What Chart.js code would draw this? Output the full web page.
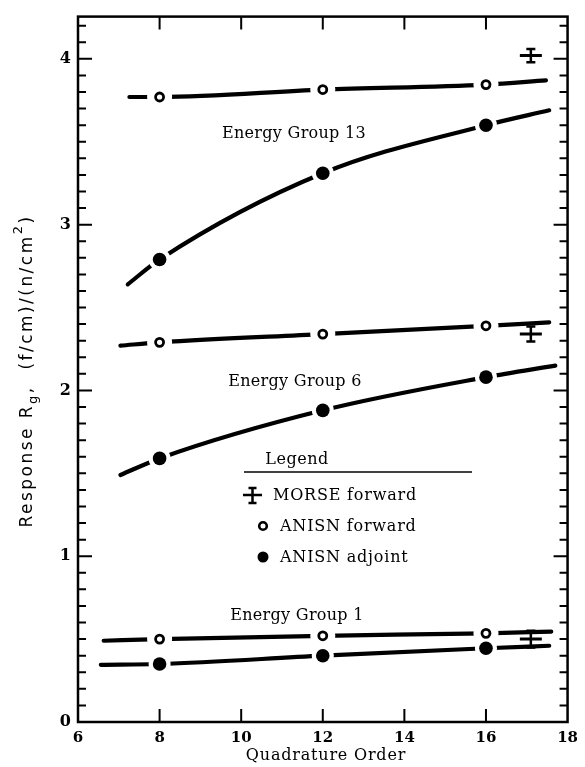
<!DOCTYPE html>
<html><head><meta charset="utf-8">
<script src="https://cdn.jsdelivr.net/npm/chart.js@4/dist/chart.umd.min.js"></script>
<style>html,body{margin:0;padding:0;background:#fff;}#wrap{width:585px;height:767px;}</style>
</head><body><div id="wrap"><canvas id="c" width="585" height="767"></canvas></div>
<script>
// ---- data ----
const quadratureOrders = [8, 12, 16];
const xTickLabels = ['6', '8', '10', '12', '14', '16', '18'];
const yTickLabels = ['0', '1', '2', '3', '4'];
const groupLabels = ['Energy Group 13', 'Energy Group 6', 'Energy Group 1'];

// ANISN forward (open circles)
const fwd13 = [3.77, 3.815, 3.845];
const fwd6 = [2.29, 2.34, 2.39];
const fwd1 = [0.50, 0.52, 0.535];
// ANISN adjoint (filled circles)
const adj13 = [2.79, 3.31, 3.60];
const adj6 = [1.59, 1.88, 2.08];
const adj1 = [0.35, 0.40, 0.445];

// ends of the drawn fit curves [order, response]
const fwd13Start = [7.26, 3.77], fwd13End = [17.47, 3.87];
const adj13Start = [7.22, 2.64], adj13End = [17.55, 3.69];
const fwd6Start = [7.04, 2.27], fwd6End = [17.55, 2.41];
const adj6Start = [7.04, 1.49], adj6End = [17.7, 2.15];
const fwd1Start = [6.63, 0.49], fwd1End = [17.6, 0.545];
const adj1Start = [6.56, 0.345], adj1End = [17.55, 0.46];

// MORSE forward (with error bars)
const morseOrder = [17.1, 17.1, 17.1];
const morseValue = [4.02, 2.34, 0.50];
const morseError = [0.04, 0.045, 0.05];

const legendLabels = ['MORSE forward', 'ANISN forward', 'ANISN adjoint'];

// ---- build datasets ----
const pts = vals => quadratureOrders.map((o, i) => ({x: o, y: vals[i]}));
const curve = (s, vals, e) => [{x: s[0], y: s[1]}, ...pts(vals), {x: e[0], y: e[1]}];

const curves = [
  curve(fwd13Start, fwd13, fwd13End), curve(adj13Start, adj13, adj13End),
  curve(fwd6Start, fwd6, fwd6End), curve(adj6Start, adj6, adj6End),
  curve(fwd1Start, fwd1, fwd1End), curve(adj1Start, adj1, adj1End)
];
const fwdPts = () => [...pts(fwd13), ...pts(fwd6), ...pts(fwd1)];
const adjPts = () => [...pts(adj13), ...pts(adj6), ...pts(adj1)];
const morsePts = morseOrder.map((o, i) => ({x: o, y: morseValue[i]}));

const datasets = [];
curves.forEach(c => datasets.push({
  type: 'line', data: c, showLine: true, borderColor: '#000', borderWidth: 4.2,
  pointRadius: 0, cubicInterpolationMode: 'monotone', fill: false, order: 3, borderCapStyle: 'round'
}));
// white halos that break the curves around each marker
datasets.push({type: 'scatter', data: fwdPts(), pointRadius: 12.5, pointBackgroundColor: '#fff', backgroundColor: '#fff', pointBorderWidth: 0, order: 2});
datasets.push({type: 'scatter', data: adjPts(), pointRadius: 11, pointBackgroundColor: '#fff', backgroundColor: '#fff', pointBorderWidth: 0, order: 2});
// markers
datasets.push({type: 'scatter', data: fwdPts(), pointRadius: 4, pointBackgroundColor: '#fff', pointBorderColor: '#000', pointBorderWidth: 2.8, order: 1});
datasets.push({type: 'scatter', data: adjPts(), pointRadius: 6.8, pointBackgroundColor: '#000', pointBorderColor: '#000', pointBorderWidth: 0, order: 1});
datasets.push({type: 'scatter', data: morsePts, pointStyle: 'line', pointRadius: 11, pointBorderColor: '#000', pointBorderWidth: 3, order: 1});

const SERIF = "'DejaVu Serif', serif";
const SANS = "'DejaVu Sans', sans-serif";

function setLS(ctx, v) { if ('letterSpacing' in ctx) ctx.letterSpacing = v; }

const framePlugin = {
  id: 'frame',
  afterDatasetsDraw(chart) {
    const ctx = chart.ctx, a = chart.chartArea, xs = chart.scales.x, ys = chart.scales.y;
    ctx.save();
    ctx.strokeStyle = '#000';
    // error bars for MORSE
    ctx.lineWidth = 2.5;
    morseOrder.forEach((o, i) => {
      const px = xs.getPixelForValue(o);
      const t = ys.getPixelForValue(morseValue[i] + morseError[i]);
      const b = ys.getPixelForValue(morseValue[i] - morseError[i]);
      ctx.beginPath();
      ctx.moveTo(px, t); ctx.lineTo(px, b);
      ctx.moveTo(px - 4.5, t); ctx.lineTo(px + 4.5, t);
      ctx.moveTo(px - 4.5, b); ctx.lineTo(px + 4.5, b);
      ctx.stroke();
    });
    // frame
    ctx.lineWidth = 2.5;
    ctx.strokeRect(a.left, a.top, a.right - a.left, a.bottom - a.top);
    // y ticks (both sides, inward)
    ctx.lineWidth = 2;
    ctx.beginPath();
    const yMinorStep = 0.1;
    for (let k = 1; k * yMinorStep <= ys.max + 1e-9; k++) {
      const py = ys.getPixelForValue(k * yMinorStep);
      const len = (k % 10 === 0) ? 14 : 8;
      ctx.moveTo(a.left, py); ctx.lineTo(a.left + len, py);
      ctx.moveTo(a.right, py); ctx.lineTo(a.right - len, py);
    }
    // x ticks (top and bottom, inward)
    for (let v = 8; v <= 16; v += 2) {
      const px = xs.getPixelForValue(v);
      ctx.moveTo(px, a.bottom); ctx.lineTo(px, a.bottom - 13);
      ctx.moveTo(px, a.top); ctx.lineTo(px, a.top + 13);
    }
    ctx.stroke();
    ctx.restore();
  },
  afterDraw(chart) {
    const ctx = chart.ctx;
    ctx.save();
    ctx.fillStyle = '#000';
    ctx.strokeStyle = '#000';
    // group labels
    ctx.font = '16px ' + SERIF;
    setLS(ctx, '0.3px');
    ctx.textAlign = 'center';
    ctx.textBaseline = 'middle';
    ctx.fillText(groupLabels[0], 294, 134);
    ctx.fillText(groupLabels[1], 295, 382);
    ctx.fillText(groupLabels[2], 297, 616);
    // x title
    setLS(ctx, '0.8px');
    ctx.fillText('Quadrature Order', 326, 756);
    // legend
    setLS(ctx, '0.5px');
    ctx.fillText('Legend', 297, 460);
    ctx.lineWidth = 1.5;
    ctx.beginPath(); ctx.moveTo(244, 472); ctx.lineTo(472, 472); ctx.stroke();
    ctx.textAlign = 'left';
    setLS(ctx, '0.8px');
    ctx.fillText(legendLabels[0], 273, 496);
    ctx.fillText(legendLabels[1], 280, 527);
    ctx.fillText(legendLabels[2], 280, 558);
    // legend icons
    ctx.lineWidth = 2.5;
    ctx.beginPath();
    ctx.moveTo(243, 495); ctx.lineTo(262, 495);
    ctx.moveTo(252.5, 488); ctx.lineTo(252.5, 503);
    ctx.moveTo(248.5, 488); ctx.lineTo(256.5, 488);
    ctx.moveTo(248.5, 503); ctx.lineTo(256.5, 503);
    ctx.stroke();
    ctx.beginPath(); ctx.arc(263, 526, 3.8, 0, Math.PI * 2); ctx.lineWidth = 2.6; ctx.stroke();
    ctx.beginPath(); ctx.arc(263, 557, 5.5, 0, Math.PI * 2); ctx.fill();
    // y title (rotated, with sub/superscript), stretched to the reference length
    const pieces = [
      {t: 'Response R', f: '17px ' + SANS, dy: 0},
      {t: 'g', f: '13px ' + SANS, dy: 5},
      {t: ',  ', f: '17px ' + SANS, dy: 0},
      {t: '(f/cm)/(n/cm', f: '17px ' + SANS, dy: 0},
      {t: '2', f: '13px ' + SANS, dy: -10},
      {t: ')', f: '17px ' + SANS, dy: 0}
    ];
    const targetLen = 313;
    ctx.translate(32, 371);
    ctx.rotate(-Math.PI / 2);
    ctx.textBaseline = 'alphabetic';
    ctx.textAlign = 'left';
    setLS(ctx, '0px');
    let base = 0, nch = 0;
    pieces.forEach(p => { ctx.font = p.f; p.w0 = ctx.measureText(p.t).width; base += p.w0; nch += p.t.length; });
    const ls = Math.max(0, (targetLen - base) / nch);
    let total = base + ls * nch;
    let x = -total / 2;
    pieces.forEach(p => {
      ctx.font = p.f; setLS(ctx, ls + 'px');
      ctx.fillText(p.t, x, p.dy);
      x += p.w0 + ls * p.t.length;
    });
    ctx.restore();
  }
};

new Chart(document.getElementById('c'), {
  type: 'scatter',
  data: {datasets},
  options: {
    responsive: false,
    animation: false,
    devicePixelRatio: 1,
    events: [],
    layout: {padding: {left: 0, right: 10, top: 12, bottom: 0}},
    plugins: {legend: {display: false}, tooltip: {enabled: false}},
    scales: {
      x: {
        type: 'linear', min: 6, max: 18,
        grid: {display: false, drawTicks: false},
        border: {display: false},
        ticks: {stepSize: 2, padding: 7, color: '#000', font: {family: SERIF, size: 15, weight: 'bold'},
          callback: (v, i) => xTickLabels[i], maxRotation: 0, autoSkip: false},
        afterFit: s => { s.height = 45; }
      },
      y: {
        type: 'linear', min: 0, max: 4.255,
        grid: {display: false, drawTicks: false},
        border: {display: false},
        ticks: {stepSize: 1, includeBounds: false, padding: 7, color: '#000', font: {family: SERIF, size: 16, weight: 'bold'},
          callback: (v, i) => yTickLabels[i]},
        afterFit: s => { s.width = 78; }
      }
    }
  },
  plugins: [framePlugin]
});
</script></body></html>
